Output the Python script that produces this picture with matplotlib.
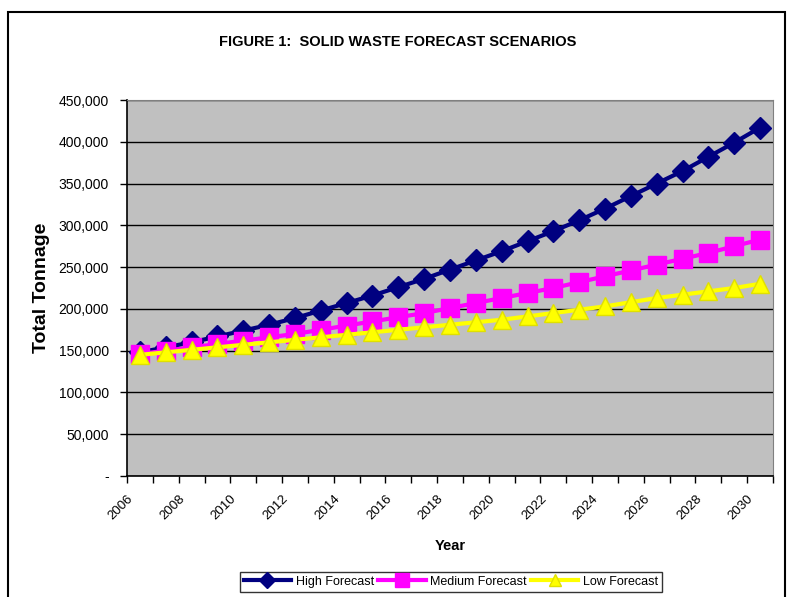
import numpy as np
import matplotlib
matplotlib.use('Agg')
import matplotlib.pyplot as plt
from matplotlib.patches import Rectangle
from matplotlib.ticker import FuncFormatter

plt.rcParams['font.family'] = ['Liberation Sans', 'DejaVu Sans']

years = list(range(2006, 2031))
high = [148000, 154000, 160000, 167000, 174000, 181000, 189000, 198000, 207000,
        216000, 226000, 236000, 247000, 258000, 269000, 281000, 293000, 306000,
        320000, 335000, 350000, 365000, 382000, 399000, 417000]
medium = [146000, 150000, 154000, 158000, 162000, 166000, 170000, 175000, 180000,
          185000, 190000, 195000, 201000, 207000, 213000, 219000, 225000, 232000,
          239000, 246000, 253000, 260000, 267000, 275000, 283000]
low = [145000, 148000, 151000, 154000, 157000, 160000, 163000, 166000, 169000,
       172000, 175000, 178000, 181000, 184000, 187000, 191000, 195000, 199000,
       203000, 208000, 213000, 217000, 221000, 225000, 230000]

fig = plt.figure(figsize=(7.88, 5.97), dpi=100)
ax = fig.add_axes([127/788, 1-476/597, 646/788, 376/597])
ax.set_facecolor('#C0C0C0')

ax.plot(years, high, color='#000080', lw=3, marker='D', ms=11, mec='#000080',
        label='High Forecast')
ax.plot(years, medium, color='#FF00FF', lw=3, marker='s', ms=13.5, mec='#FF00FF',
        label='Medium Forecast')
ax.plot(years, low, color='#FFFF00', lw=3, marker='^', ms=13, mec='#E0E000',
        label='Low Forecast')

ax.set_xlim(2005.5, 2030.5)
ax.set_ylim(0, 450000)
ax.set_yticks(np.arange(0, 450001, 50000))
ax.yaxis.set_major_formatter(FuncFormatter(lambda v, p: '-' if v == 0 else f'{int(v):,}'))
ax.yaxis.grid(True, color='black', lw=1)
ax.set_axisbelow(True)

# tick marks between categories; labels hang from the boundary before every other year
ax.set_xticks([y - 0.5 for y in years[::2]])
ax.set_xticklabels([str(y) for y in years[::2]], rotation=45,
                   ha='right', va='top', rotation_mode='anchor', fontsize=9.5)
ax.set_xticks([y - 0.5 for y in years[1::2]] + [2030.5], minor=True)
ax.tick_params(axis='x', which='both', length=5, width=1, direction='out')
ax.tick_params(axis='x', which='major', pad=7)
ax.tick_params(axis='y', length=5, width=1, labelsize=10, pad=8)

for s in ['top', 'right']:
    ax.spines[s].set_color('#808080')
for s in ['left', 'bottom']:
    ax.spines[s].set_color('black')
    ax.spines[s].set_linewidth(1.2)

ax.set_ylabel('Total Tonnage', fontweight='bold', fontsize=14, labelpad=6)
ax.set_xlabel('Year', fontweight='bold', fontsize=10.5, labelpad=12)

fig.text(398/788, 1-42/597, 'FIGURE 1:  SOLID WASTE FORECAST SCENARIOS',
         ha='center', va='center', fontweight='bold', fontsize=10.5)

leg = fig.legend(loc='upper center', bbox_to_anchor=(451/788, 1-572/597), ncol=3,
                 frameon=True, fancybox=False, edgecolor='black', fontsize=9,
                 handlelength=3.8, columnspacing=0.3, handletextpad=0.4,
                 borderpad=0.3, borderaxespad=0, markerscale=0.7)
leg.get_frame().set_linewidth(1)

fig.add_artist(Rectangle((8/788, -0.1), 777/788, 1.1-12/597, transform=fig.transFigure,
                         fill=False, edgecolor='black', lw=1.5, clip_on=False))

fig.savefig('out.png', dpi=100)
